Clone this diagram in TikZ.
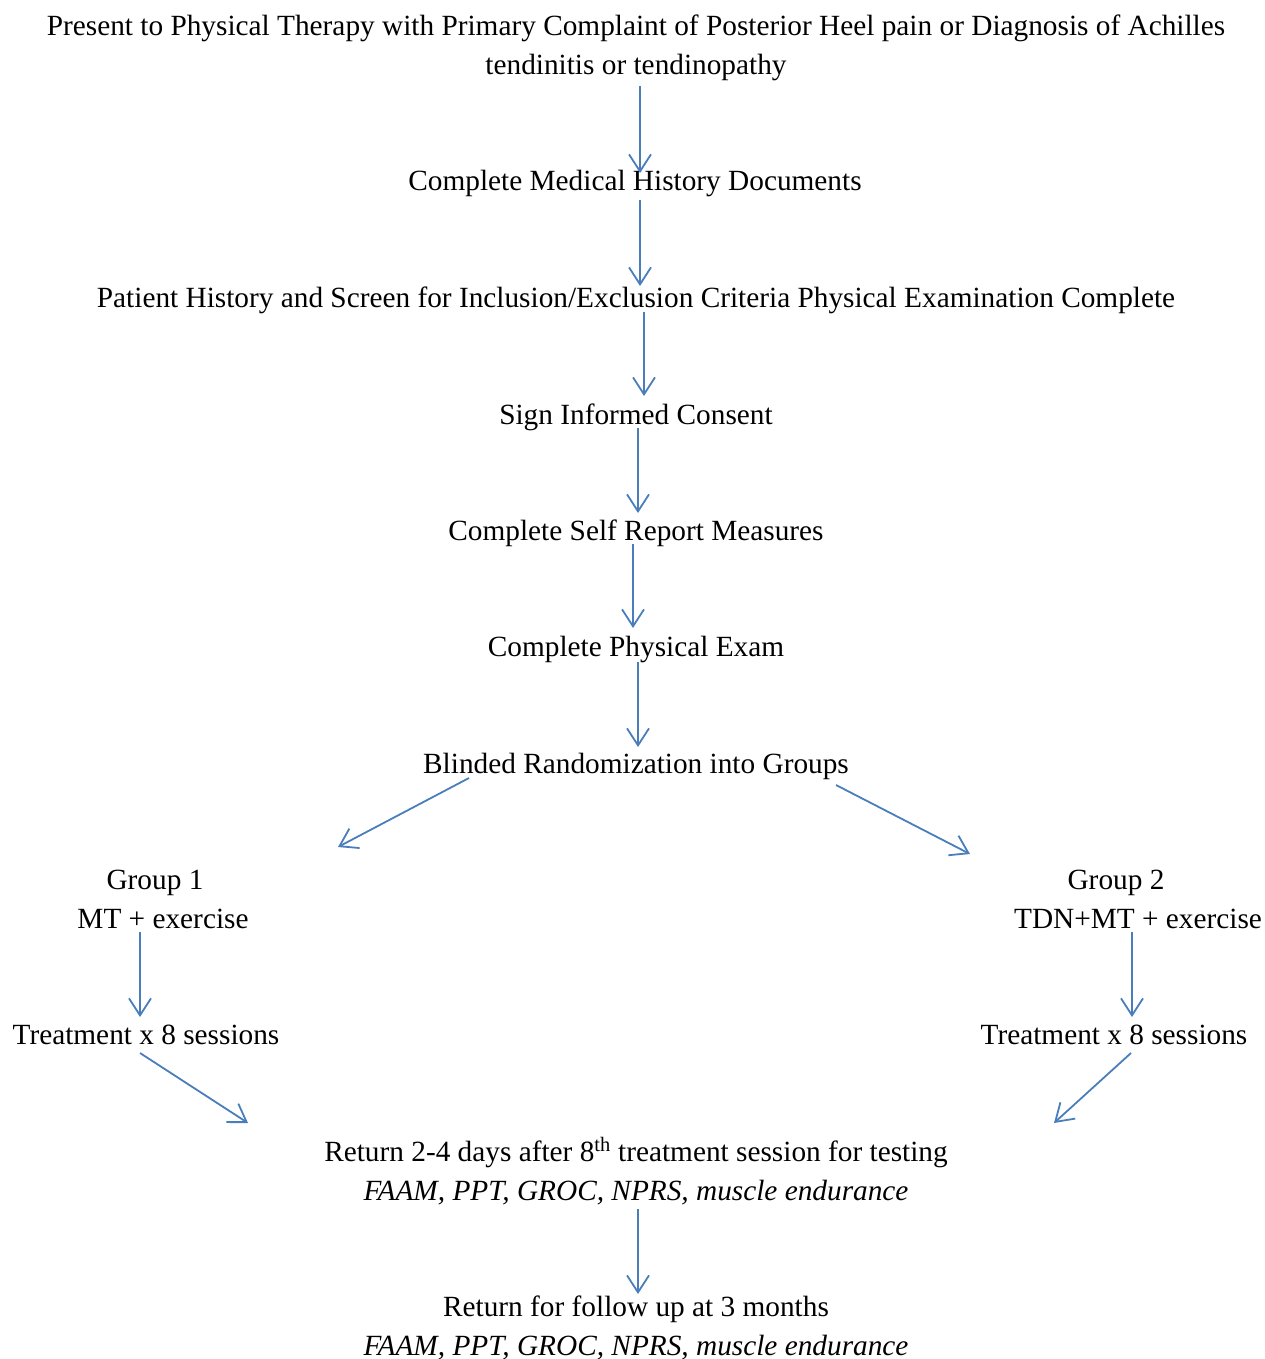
\documentclass[tikz,border=0pt]{standalone}
\usepackage{fontspec}
\setmainfont{Liberation Serif}
\usetikzlibrary{arrows.meta}
\definecolor{arrblue}{HTML}{4A7EBB}
\tikzset{
  txt/.style={inner sep=0pt, anchor=base, font=\fontsize{29.3pt}{39pt}\selectfont},
  itxt/.style={txt, font=\fontsize{29.3pt}{39pt}\selectfont\itshape},
  arr/.style={draw=arrblue, line width=1.8pt, -{Straight Barb[length=17pt,width=22pt,line width=1.8pt]}}
}
\begin{document}
\begin{tikzpicture}[x=1pt,y=-1pt]
\useasboundingbox (0,0) rectangle (1265,1359);
\node[txt] (t1a) at (636,36) {Present to Physical Therapy with Primary Complaint of Posterior Heel pain or Diagnosis of Achilles};
\node[txt] (t1b) at (636,75) {tendinitis or tendinopathy};
\node[txt] (t2) at (635,191) {Complete Medical History Documents};
\node[txt] (t3) at (636,307) {Patient History and Screen for Inclusion/Exclusion Criteria Physical Examination Complete};
\node[txt] (t4) at (636,424) {Sign Informed Consent};
\node[txt] (t5) at (636,540) {Complete Self Report Measures};
\node[txt] (t6) at (636,656) {Complete Physical Exam};
\node[txt] (t7) at (636,773) {Blinded Randomization into Groups};
\node[txt] (g1a) at (155,889) {Group 1};
\node[txt] (g1b) at (163,928) {MT + exercise};
\node[txt] (g2a) at (1116,889) {Group 2};
\node[txt] (g2b) at (1138,928) {TDN+MT + exercise};
\node[txt] (tr1) at (146,1044) {Treatment x 8 sessions};
\node[txt] (tr2) at (1114,1044) {Treatment x 8 sessions};
\node[txt] (r1a) at (636,1161) {Return 2-4 days after 8\textsuperscript{th} treatment session for testing};
\node[itxt] (r1b) at (636,1200) {FAAM, PPT, GROC, NPRS, muscle endurance};
\node[txt] (r2a) at (636,1316) {Return for follow up at 3 months};
\node[itxt] (r2b) at (636,1355) {FAAM, PPT, GROC, NPRS, muscle endurance};
\coordinate (a1s) at (640,86);   \coordinate (a1e) at (640,173);
\coordinate (a2s) at (640,200);  \coordinate (a2e) at (640,286);
\coordinate (a3s) at (644,312);  \coordinate (a3e) at (644,396);
\coordinate (a4s) at (638,428);  \coordinate (a4e) at (638,513);
\coordinate (a5s) at (633,544);  \coordinate (a5e) at (633,628);
\coordinate (a6s) at (638,662);  \coordinate (a6e) at (638,747);
\coordinate (a7s) at (469,778);  \coordinate (a7e) at (338,847);
\coordinate (a8s) at (836,785);  \coordinate (a8e) at (970,854);
\coordinate (a9s) at (140,932);  \coordinate (a9e) at (140,1017);
\coordinate (a10s) at (1132,932); \coordinate (a10e) at (1132,1017);
\coordinate (a11s) at (140,1053); \coordinate (a11e) at (248,1123);
\coordinate (a12s) at (1131,1053); \coordinate (a12e) at (1054,1123);
\coordinate (a13s) at (638,1209); \coordinate (a13e) at (638,1294);
\draw[arr] (a1s) -- (a1e);
\draw[arr] (a2s) -- (a2e);
\draw[arr] (a3s) -- (a3e);
\draw[arr] (a4s) -- (a4e);
\draw[arr] (a5s) -- (a5e);
\draw[arr] (a6s) -- (a6e);
\draw[arr] (a7s) -- (a7e);
\draw[arr] (a8s) -- (a8e);
\draw[arr] (a9s) -- (a9e);
\draw[arr] (a10s) -- (a10e);
\draw[arr] (a11s) -- (a11e);
\draw[arr] (a12s) -- (a12e);
\draw[arr] (a13s) -- (a13e);
\end{tikzpicture}
\end{document}
